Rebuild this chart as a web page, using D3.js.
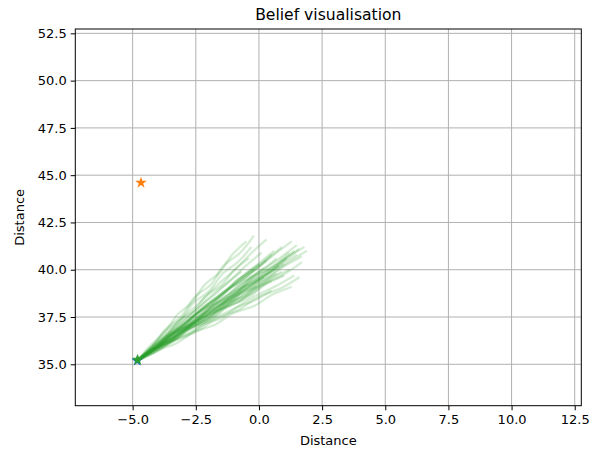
<!DOCTYPE html>
<html>
<head>
<meta charset="utf-8">
<script src="https://cdn.jsdelivr.net/npm/d3@7"></script>
<style>
  body { margin: 0; background: #fff; }
  svg { font-family: "DejaVu Sans", sans-serif; }
</style>
</head>
<body>
<svg id="chart" width="602" height="454"></svg>
<script>
// ==== data ====
var xTicks = [-5.0, -2.5, 0.0, 2.5, 5.0, 7.5, 10.0, 12.5];
var yTicks = [35.0, 37.5, 40.0, 42.5, 45.0, 47.5, 50.0, 52.5];

var startPos = [-4.82, 35.19];   // blue star (true start)
var beliefStart = [-4.8, 35.24]; // green star
var goalPos = [-4.67, 44.6];     // orange star

// belief trajectories (each starts at startPos)
var beliefTracks = [
  [[-4.22,35.97],[-3.70,36.86],[-3.05,37.58],[-2.55,38.55],[-1.90,39.22],[-1.40,40.22],[-0.74,40.90],[-0.2,41.8]],
  [[-4.16,36.05],[-3.58,36.72],[-2.86,37.66],[-2.30,38.32],[-1.58,39.28],[-1.02,39.92],[-0.30,40.88],[0.3,41.6]],
  [[-4.05,35.90],[-3.20,36.78],[-2.48,37.42],[-1.62,38.30],[-0.90,38.95],[-0.04,39.84],[0.68,40.48],[1.5,41.3]],
  [[-3.96,35.96],[-3.18,36.58],[-2.26,37.42],[-1.50,38.02],[-0.58,38.88],[0.18,39.48],[1.10,40.34],[1.9,41.0]],
  [[-4.00,35.70],[-3.25,36.34],[-2.38,36.80],[-1.64,37.45],[-0.78,37.90],[-0.04,38.56],[0.84,39.00],[1.6,39.6]],
  [[-4.08,35.72],[-3.26,36.12],[-2.56,36.70],[-1.72,37.10],[-1.03,37.70],[-0.20,38.08],[0.50,38.66],[1.3,39.1]],
  [[-4.14,35.62],[-3.52,36.16],[-2.80,36.54],[-2.19,37.10],[-1.47,37.46],[-0.86,38.02],[-0.14,38.40],[0.5,38.9]],
  [[-4.10,35.86],[-3.44,36.40],[-2.68,37.12],[-2.04,37.64],[-1.28,38.38],[-0.64,38.90],[0.14,39.62],[0.8,40.2]],
  [[-4.06,35.82],[-3.38,36.60],[-2.56,37.16],[-1.90,37.96],[-1.08,38.50],[-0.42,39.32],[0.40,39.86],[1.1,40.6]],
  [[-4.20,35.86],[-3.65,36.42],[-2.98,37.16],[-2.44,37.70],[-1.78,38.44],[-1.24,38.96],[-0.56,39.72],[0.0,40.3]],
  [[-4.28,35.90],[-3.69,36.50],[-3.19,37.28],[-2.58,37.84],[-2.09,38.62],[-1.47,39.20],[-0.98,39.98],[-0.4,40.6]],
  [[-4.16,35.88],[-3.44,36.70],[-2.82,37.32],[-2.08,38.14],[-1.46,38.76],[-0.72,39.60],[-0.12,40.22],[0.6,41.0]],
  [[-4.04,36.02],[-3.32,36.72],[-2.50,37.62],[-1.80,38.30],[-0.96,39.20],[-0.26,39.86],[0.58,40.78],[1.3,41.5]],
  [[-4.11,35.78],[-3.34,36.28],[-2.67,36.94],[-1.88,37.40],[-1.21,38.06],[-0.43,38.52],[0.24,39.20],[1.0,39.7]],
  [[-3.99,35.80],[-3.22,36.54],[-2.35,37.10],[-1.60,37.86],[-0.72,38.40],[0.04,39.16],[0.92,39.70],[1.7,40.4]],
  [[-4.21,35.77],[-3.54,36.26],[-2.97,36.90],[-2.28,37.34],[-1.71,38.00],[-1.03,38.46],[-0.46,39.10],[0.2,39.6]],
  [[-4.30,35.82],[-3.82,36.34],[-3.25,37.02],[-2.79,37.50],[-2.22,38.20],[-1.76,38.68],[-1.19,39.36],[-0.7,39.9]],
  [[-4.13,35.90],[-3.36,36.74],[-2.71,37.40],[-1.93,38.26],[-1.28,38.90],[-0.50,39.76],[0.16,40.40],[0.9,41.2]],
  [[-4.01,35.92],[-3.27,36.54],[-2.42,37.34],[-1.69,37.94],[-0.84,38.76],[-0.11,39.34],[0.74,40.16],[1.5,40.8]],
  [[-4.15,35.76],[-3.55,36.44],[-2.83,36.94],[-2.24,37.64],[-1.53,38.14],[-0.94,38.86],[-0.22,39.34],[0.4,40.0]],
  [[-4.25,35.71],[-3.61,36.14],[-3.08,36.72],[-2.43,37.10],[-1.90,37.70],[-1.25,38.08],[-0.72,38.66],[-0.1,39.1]],
  [[-4.01,35.98],[-3.14,36.64],[-2.37,37.50],[-1.48,38.14],[-0.71,39.02],[0.17,39.64],[0.94,40.50],[1.8,41.2]],
  [[-4.11,35.84],[-3.47,36.58],[-2.72,37.18],[-2.09,37.94],[-1.34,38.52],[-0.71,39.30],[0.04,39.88],[0.7,40.6]],
  [[-4.19,35.94],[-3.62,36.58],[-2.95,37.38],[-2.39,38.00],[-1.72,38.82],[-1.16,39.42],[-0.49,40.24],[0.1,40.9]],
  [[-4.09,35.82],[-3.29,36.36],[-2.59,37.04],[-1.78,37.54],[-1.09,38.26],[-0.28,38.74],[0.42,39.46],[1.2,40.0]],
  [[-4.24,35.90],[-3.72,36.74],[-3.10,37.38],[-2.59,38.24],[-1.97,38.88],[-1.46,39.76],[-0.84,40.40],[-0.3,41.2]],
  [[-4.18,35.75],[-3.46,36.20],[-2.86,36.82],[-2.13,37.24],[-1.53,37.88],[-0.80,38.30],[-0.20,38.92],[0.5,39.4]],
  [[-4.02,35.88],[-3.30,36.70],[-2.46,37.32],[-1.74,38.14],[-0.90,38.76],[-0.19,39.60],[0.65,40.22],[1.4,41.0]],
  [[-4.20,35.82],[-3.51,36.56],[-2.93,37.14],[-2.23,37.90],[-1.65,38.46],[-0.95,39.22],[-0.37,39.78],[0.3,40.5]],
  [[-4.07,35.87],[-3.40,36.42],[-2.61,37.16],[-1.94,37.70],[-1.15,38.44],[-0.49,38.96],[0.30,39.72],[1.0,40.3]],
  [[-4.14,35.86],[-3.52,36.64],[-2.80,37.24],[-2.19,38.04],[-1.47,38.64],[-0.86,39.46],[-0.14,40.04],[0.5,40.8]],
  [[-4.06,35.72],[-3.24,36.36],[-2.52,36.84],[-1.68,37.50],[-0.96,37.96],[-0.13,38.62],[0.59,39.08],[1.4,39.7]],
  [[-4.30,36.01],[-3.71,36.72],[-3.23,37.62],[-2.63,38.30],[-2.15,39.20],[-1.55,39.86],[-1.07,40.78],[-0.5,41.5]],
  [[-4.09,35.81],[-3.42,36.33],[-2.65,37.01],[-1.99,37.50],[-1.22,38.20],[-0.56,38.67],[0.22,39.36],[0.9,39.9]],
  [[-4.04,35.90],[-3.19,36.72],[-2.44,37.36],[-1.58,38.20],[-0.84,38.84],[0.03,39.68],[0.77,40.30],[1.6,41.1]],
  [[-4.17,35.84],[-3.60,36.38],[-2.91,37.08],[-2.34,37.60],[-1.65,38.32],[-1.09,38.82],[-0.40,39.54],[0.2,40.1]],
  [[-4.05,35.87],[-3.35,36.66],[-2.53,37.28],[-1.84,38.10],[-1.03,38.70],[-0.34,39.52],[0.48,40.14],[1.2,40.9]],
  [[-4.15,35.80],[-3.41,36.30],[-2.78,36.97],[-2.03,37.44],[-1.40,38.12],[-0.65,38.60],[-0.02,39.28],[0.7,39.8]],
  [[-4.22,35.76],[-3.69,36.44],[-3.06,36.94],[-2.54,37.64],[-1.90,38.14],[-1.38,38.86],[-0.75,39.34],[-0.2,40.0]],
  [[-4.03,35.91],[-3.16,36.52],[-2.41,37.31],[-1.53,37.90],[-0.78,38.70],[0.10,39.27],[0.85,40.06],[1.7,40.7]]
];

// ==== layout ====
var svg = d3.select("#chart"),
  margin = { left: 75.3, right: 602 - 581.3, top: 29, bottom: 454 - 405.7 },
  width = 602 - margin.left - margin.right,
  height = 454 - margin.top - margin.bottom;

var x = d3.scaleLinear().domain([-7.27, 12.76]).range([0, width]);
var y = d3.scaleLinear().domain([32.81, 52.73]).range([height, 0]);

var g = svg.append("g").attr("transform", "translate(" + margin.left + "," + margin.top + ")");

var fmt = function (d) { return d3.format(".1f")(d).replace("-", "\u2212"); };

// grid
g.append("g").selectAll("line").data(xTicks).enter().append("line")
  .attr("x1", function (d) { return x(d); }).attr("x2", function (d) { return x(d); })
  .attr("y1", 0).attr("y2", height)
  .attr("stroke", "#b0b0b0").attr("stroke-width", 1);
g.append("g").selectAll("line").data(yTicks).enter().append("line")
  .attr("y1", function (d) { return y(d); }).attr("y2", function (d) { return y(d); })
  .attr("x1", 0).attr("x2", width)
  .attr("stroke", "#b0b0b0").attr("stroke-width", 1);

// belief tracks
var line = d3.line()
  .x(function (d) { return x(d[0]); })
  .y(function (d) { return y(d[1]); })
  .curve(d3.curveCatmullRom);

var clip = g.append("clipPath").attr("id", "clip").append("rect")
  .attr("width", width).attr("height", height);

g.append("g").attr("clip-path", "url(#clip)")
  .selectAll("path").data(beliefTracks).enter().append("path")
  .attr("d", function (d) { return line([startPos].concat(d)); })
  .attr("fill", "none")
  .attr("stroke", "#2ca02c")
  .attr("stroke-opacity", 0.2)
  .attr("stroke-width", 2.3)
  .attr("stroke-linejoin", "round");

// stars
var star = d3.symbol().type(d3.symbolStar).size(42);
var stars = [
  { p: startPos, c: "#1f77b4" },
  { p: beliefStart, c: "#2ca02c" },
  { p: goalPos, c: "#ff7f0e" }
];
g.append("g").selectAll("path").data(stars).enter().append("path")
  .attr("d", star)
  .attr("transform", function (d) { return "translate(" + x(d.p[0]) + "," + y(d.p[1]) + ")"; })
  .attr("fill", function (d) { return d.c; });

// axes
var xAxis = d3.axisBottom(x).tickValues(xTicks).tickFormat(fmt).tickSize(4.6).tickPadding(4);
var yAxis = d3.axisLeft(y).tickValues(yTicks).tickFormat(fmt).tickSize(4.6).tickPadding(4);

var gx = g.append("g").attr("transform", "translate(0," + height + ")").call(xAxis);
var gy = g.append("g").call(yAxis);
[gx, gy].forEach(function (a) {
  a.select(".domain").remove();
  a.selectAll("text").attr("font-size", 13).attr("fill", "#000").attr("font-family", "DejaVu Sans");
  a.selectAll("line").attr("stroke", "#000").attr("stroke-width", 1);
});

// frame
g.append("rect").attr("width", width).attr("height", height)
  .attr("fill", "none").attr("stroke", "#000").attr("stroke-width", 1);

// labels
svg.append("text").attr("x", margin.left + width / 2).attr("y", 20)
  .attr("text-anchor", "middle").attr("font-size", 15.6).text("Belief visualisation");
svg.append("text").attr("x", margin.left + width / 2).attr("y", 445)
  .attr("text-anchor", "middle").attr("font-size", 13).text("Distance");
svg.append("text").attr("transform", "translate(24," + (margin.top + height / 2) + ") rotate(-90)")
  .attr("text-anchor", "middle").attr("font-size", 13).text("Distance");
</script>
</body>
</html>
